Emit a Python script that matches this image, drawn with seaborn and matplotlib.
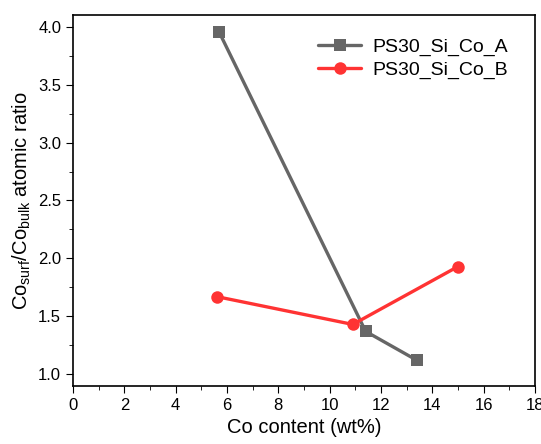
import seaborn as sns
import pandas as pd
import matplotlib.pyplot as plt
from matplotlib.ticker import MultipleLocator

sns.set_style('ticks')
plt.rcParams['font.family'] = ['Liberation Sans', 'DejaVu Sans']
plt.rcParams['text.color'] = 'black'
plt.rcParams['axes.labelcolor'] = 'black'

co_a = [5.7, 11.4, 13.4]
ratio_a = [3.95, 1.37, 1.12]
co_b = [5.6, 10.9, 15.0]
ratio_b = [1.67, 1.43, 1.93]

df = pd.concat([
    pd.DataFrame({'co': co_a, 'ratio': ratio_a, 'sample': 'PS30_Si_Co_A'}),
    pd.DataFrame({'co': co_b, 'ratio': ratio_b, 'sample': 'PS30_Si_Co_B'}),
])

fig = plt.figure(figsize=(5.41, 4.44), dpi=100)
ax = fig.add_axes([0.135, 0.131, 0.854, 0.835])

sns.lineplot(data=df, x='co', y='ratio', hue='sample', style='sample',
             markers={'PS30_Si_Co_A': 's', 'PS30_Si_Co_B': 'o'}, dashes=False,
             palette={'PS30_Si_Co_A': '#666666', 'PS30_Si_Co_B': '#ff3333'},
             linewidth=2.4, markersize=9, markeredgewidth=0, sort=False, ax=ax)

ax.set_xlim(0, 18)
ax.set_ylim(0.9, 4.1)
ax.xaxis.set_major_locator(MultipleLocator(2))
ax.xaxis.set_minor_locator(MultipleLocator(1))
ax.yaxis.set_major_locator(MultipleLocator(0.5))
ax.yaxis.set_minor_locator(MultipleLocator(0.25))
ax.tick_params(which='both', direction='out', labelsize=12, top=False, right=False,
               color='black', labelcolor='black')
ax.tick_params(which='major', length=5)
ax.tick_params(which='minor', length=3)
for s in ax.spines.values():
    s.set_linewidth(1.2)
    s.set_color('black')

ax.set_xlabel('Co content (wt%)', fontsize=14.5)
ax.set_ylabel(r'Co$_{\mathregular{surf}}$/Co$_{\mathregular{bulk}}$ atomic ratio', fontsize=14.5)

leg = ax.legend(loc='upper right', frameon=False, fontsize=14, handlelength=2.2,
                bbox_to_anchor=(0.98, 0.985), labelspacing=0.25, handletextpad=0.6)

plt.savefig('out.png', dpi=100)
